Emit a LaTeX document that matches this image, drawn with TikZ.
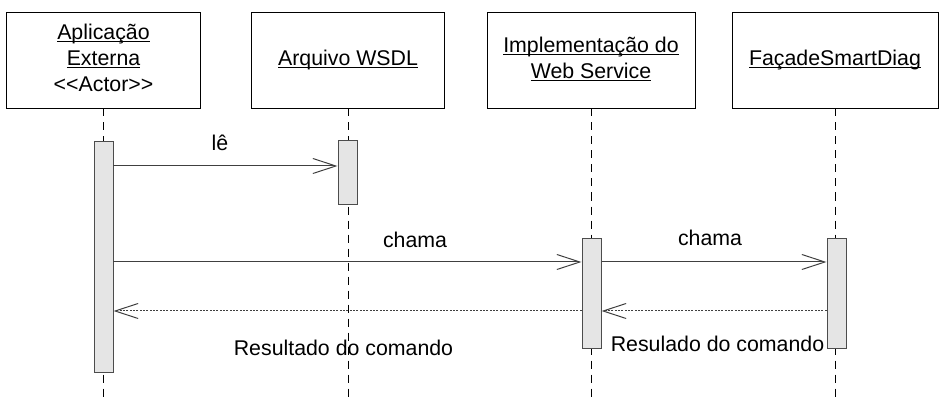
\documentclass[tikz,border=0pt]{standalone}
\usepackage{fontspec}
\setmainfont{Liberation Sans}
\usetikzlibrary{arrows.meta}
\newcommand\undl[1]{\underline{\smash{#1}}\strut}
\definecolor{barfill}{gray}{0.9}
\definecolor{barline}{gray}{0.3}
\definecolor{msgline}{gray}{0.25}
\tikzset{
  actorbox/.style={draw=black,rectangle,fill=white,line width=0.85pt,inner sep=0pt,minimum height=2.85cm,align=center,font=\fontsize{18.2}{22.2}\selectfont},
  actbar/.style={draw=barline,fill=barfill,rectangle,line width=0.85pt,inner sep=0pt,minimum width=0.57cm},
  lifeln/.style={draw=black,line width=0.7pt,dash pattern=on 0.24cm off 0.18cm},
  msg/.style={draw=msgline,line width=0.85pt,-{Straight Barb[length=0.69cm,width=0.45cm]}},
  ret/.style={msg,dash pattern=on 0.06cm off 0.04cm},
  lbl/.style={font=\fontsize{18.2}{22.2}\selectfont,inner sep=0pt},
}
\begin{document}
\begin{tikzpicture}[x=0.03cm,y=0.03cm]
  \useasboundingbox (0,0) rectangle (939,-403);
  % objects
  \node[actorbox,minimum width=5.79cm] (aplic) at (103.5,-60.5) {\undl{Aplicação}\\\undl{Externa}\\<{}<Actor>{}>\strut};
  \node[actorbox,minimum width=5.76cm] (wsdl) at (348,-60.5) {\undl{Arquivo WSDL}};
  \node[actorbox,minimum width=6.24cm] (impl) at (591,-60.5) {\undl{Implementação do}\\\undl{Web Service}};
  \node[actorbox,minimum width=6.18cm] (facade) at (835,-60.5) {\undl{FaçadeSmartDiag}};
  % lifelines
  \coordinate (bottom) at (0,-400);
  \draw[lifeln] (aplic.south) -- (aplic.south |- bottom);
  \draw[lifeln] (wsdl.south) -- (wsdl.south |- bottom);
  \draw[lifeln] (impl.south) -- (impl.south |- bottom);
  \draw[lifeln] (facade.south) -- (facade.south |- bottom);
  % activations
  \node[actbar,minimum height=6.9cm] (aplicbar) at (103.5,-257) {};
  \node[actbar,minimum height=1.89cm] (wsdlbar) at (347.5,-172.5) {};
  \node[actbar,minimum height=3.27cm] (implbar) at (591.5,-293.5) {};
  \node[actbar,minimum height=3.27cm] (facadebar) at (836.5,-293.5) {};
  % messages
  \coordinate (leY) at (0,-166);
  \coordinate (chamaY) at (0,-262);
  \coordinate (retY) at (0,-311);
  \draw[msg] (aplicbar.east |- leY) -- (wsdlbar.west |- leY);
  \draw[msg] (aplicbar.east |- chamaY) -- (implbar.west |- chamaY);
  \draw[msg] (implbar.east |- chamaY) -- (facadebar.west |- chamaY);
  \draw[ret] (facadebar.west |- retY) -- (implbar.east |- retY);
  \draw[ret] (implbar.west |- retY) -- (aplicbar.east |- retY);
  \node[lbl] (le) at (220,-143) {lê};
  \node[lbl] (chama1) at (415,-240) {chama};
  \node[lbl] (chama2) at (710,-238) {chama};
  \node[lbl] (res1) at (343.5,-348) {Resultado do comando};
  \node[lbl] (res2) at (717.5,-344) {Resulado do comando};
\end{tikzpicture}
\end{document}
